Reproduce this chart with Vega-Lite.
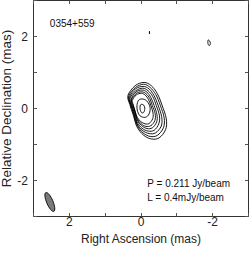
{
  "$schema": "https://vega.github.io/schema/vega-lite/v6.json",
  "width": 215,
  "height": 216,
  "autosize": {"type": "none"},
  "padding": {"left": 33, "top": 0, "right": 1, "bottom": 38},
  "background": "white",
  "config": {
    "font": "Liberation Sans",
    "view": {"stroke": "#333", "strokeWidth": 1},
    "axis": {
      "domain": false,
      "grid": false,
      "tickSize": -3.5,
      "tickColor": "#555",
      "labelFont": "Liberation Sans",
      "labelFontSize": 12,
      "labelColor": "#222",
      "labelOverlap": false,
      "labelFlush": false,
      "titleFont": "Liberation Sans",
      "titleFontSize": 12,
      "titleFontWeight": "normal",
      "titleColor": "#222"
    }
  },
  "datasets": {
    "contours": [
      {"c":1,"i":0,"x":-0.10,"y":0.71},{"c":1,"i":1,"x":-0.30,"y":0.62},{"c":1,"i":2,"x":-0.47,"y":0.40},{"c":1,"i":3,"x":-0.60,"y":0.08},{"c":1,"i":4,"x":-0.72,"y":-0.30},{"c":1,"i":5,"x":-0.70,"y":-0.60},{"c":1,"i":6,"x":-0.52,"y":-0.83},{"c":1,"i":7,"x":-0.30,"y":-0.86},{"c":1,"i":8,"x":-0.08,"y":-0.75},{"c":1,"i":9,"x":0.10,"y":-0.52},{"c":1,"i":10,"x":0.20,"y":-0.20},{"c":1,"i":11,"x":0.30,"y":0.10},{"c":1,"i":12,"x":0.35,"y":0.35},{"c":1,"i":13,"x":0.15,"y":0.62},
      {"c":2,"i":0,"x":-0.09,"y":0.66},{"c":2,"i":1,"x":-0.27,"y":0.57},{"c":2,"i":2,"x":-0.43,"y":0.37},{"c":2,"i":3,"x":-0.55,"y":0.08},{"c":2,"i":4,"x":-0.66,"y":-0.27},{"c":2,"i":5,"x":-0.64,"y":-0.55},{"c":2,"i":6,"x":-0.47,"y":-0.76},{"c":2,"i":7,"x":-0.27,"y":-0.79},{"c":2,"i":8,"x":-0.07,"y":-0.69},{"c":2,"i":9,"x":0.10,"y":-0.47},{"c":2,"i":10,"x":0.19,"y":-0.18},{"c":2,"i":11,"x":0.28,"y":0.10},{"c":2,"i":12,"x":0.33,"y":0.33},{"c":2,"i":13,"x":0.14,"y":0.57},
      {"c":3,"i":0,"x":-0.07,"y":0.60},{"c":3,"i":1,"x":-0.24,"y":0.53},{"c":3,"i":2,"x":-0.38,"y":0.34},{"c":3,"i":3,"x":-0.49,"y":0.08},{"c":3,"i":4,"x":-0.59,"y":-0.24},{"c":3,"i":5,"x":-0.58,"y":-0.50},{"c":3,"i":6,"x":-0.42,"y":-0.69},{"c":3,"i":7,"x":-0.24,"y":-0.71},{"c":3,"i":8,"x":-0.05,"y":-0.62},{"c":3,"i":9,"x":0.10,"y":-0.43},{"c":3,"i":10,"x":0.18,"y":-0.16},{"c":3,"i":11,"x":0.27,"y":0.09},{"c":3,"i":12,"x":0.31,"y":0.30},{"c":3,"i":13,"x":0.14,"y":0.53},
      {"c":4,"i":0,"x":-0.06,"y":0.55},{"c":4,"i":1,"x":-0.21,"y":0.48},{"c":4,"i":2,"x":-0.34,"y":0.32},{"c":4,"i":3,"x":-0.44,"y":0.07},{"c":4,"i":4,"x":-0.53,"y":-0.22},{"c":4,"i":5,"x":-0.51,"y":-0.44},{"c":4,"i":6,"x":-0.38,"y":-0.62},{"c":4,"i":7,"x":-0.21,"y":-0.64},{"c":4,"i":8,"x":-0.04,"y":-0.56},{"c":4,"i":9,"x":0.10,"y":-0.38},{"c":4,"i":10,"x":0.17,"y":-0.14},{"c":4,"i":11,"x":0.25,"y":0.09},{"c":4,"i":12,"x":0.29,"y":0.28},{"c":4,"i":13,"x":0.13,"y":0.48},
      {"c":5,"i":0,"x":-0.04,"y":0.50},{"c":5,"i":1,"x":-0.18,"y":0.44},{"c":5,"i":2,"x":-0.29,"y":0.29},{"c":5,"i":3,"x":-0.38,"y":0.07},{"c":5,"i":4,"x":-0.46,"y":-0.19},{"c":5,"i":5,"x":-0.45,"y":-0.39},{"c":5,"i":6,"x":-0.33,"y":-0.55},{"c":5,"i":7,"x":-0.18,"y":-0.57},{"c":5,"i":8,"x":-0.03,"y":-0.49},{"c":5,"i":9,"x":0.09,"y":-0.34},{"c":5,"i":10,"x":0.16,"y":-0.12},{"c":5,"i":11,"x":0.23,"y":0.08},{"c":5,"i":12,"x":0.26,"y":0.25},{"c":5,"i":13,"x":0.13,"y":0.44},
      {"c":6,"i":0,"x":-0.03,"y":0.45},{"c":6,"i":1,"x":-0.15,"y":0.40},{"c":6,"i":2,"x":-0.26,"y":0.26},{"c":6,"i":3,"x":-0.33,"y":0.07},{"c":6,"i":4,"x":-0.41,"y":-0.16},{"c":6,"i":5,"x":-0.40,"y":-0.35},{"c":6,"i":6,"x":-0.29,"y":-0.49},{"c":6,"i":7,"x":-0.15,"y":-0.51},{"c":6,"i":8,"x":-0.02,"y":-0.44},{"c":6,"i":9,"x":0.09,"y":-0.30},{"c":6,"i":10,"x":0.15,"y":-0.10},{"c":6,"i":11,"x":0.21,"y":0.08},{"c":6,"i":12,"x":0.25,"y":0.23},{"c":6,"i":13,"x":0.12,"y":0.40},
      {"c":7,"i":0,"x":-0.02,"y":0.41},{"c":7,"i":1,"x":-0.13,"y":0.36},{"c":7,"i":2,"x":-0.22,"y":0.24},{"c":7,"i":3,"x":-0.29,"y":0.07},{"c":7,"i":4,"x":-0.35,"y":-0.14},{"c":7,"i":5,"x":-0.34,"y":-0.30},{"c":7,"i":6,"x":-0.24,"y":-0.43},{"c":7,"i":7,"x":-0.13,"y":-0.44},{"c":7,"i":8,"x":-0.01,"y":-0.38},{"c":7,"i":9,"x":0.09,"y":-0.26},{"c":7,"i":10,"x":0.15,"y":-0.09},{"c":7,"i":11,"x":0.20,"y":0.08},{"c":7,"i":12,"x":0.23,"y":0.21},{"c":7,"i":13,"x":0.12,"y":0.36},
      {"c":8,"i":0,"x":0.05,"y":0.22},{"c":8,"i":1,"x":-0.07,"y":0.25},{"c":8,"i":2,"x":-0.17,"y":0.20},{"c":8,"i":3,"x":-0.25,"y":0.08},{"c":8,"i":4,"x":-0.27,"y":-0.06},{"c":8,"i":5,"x":-0.22,"y":-0.20},{"c":8,"i":6,"x":-0.12,"y":-0.26},{"c":8,"i":7,"x":0.01,"y":-0.22},{"c":8,"i":8,"x":0.08,"y":-0.10},{"c":8,"i":9,"x":0.10,"y":0.06},
      {"c":9,"i":0,"x":-0.02,"y":0.10},{"c":9,"i":1,"x":-0.09,"y":0.08},{"c":9,"i":2,"x":-0.12,"y":-0.02},{"c":9,"i":3,"x":-0.09,"y":-0.12},{"c":9,"i":4,"x":-0.03,"y":-0.13},{"c":9,"i":5,"x":0.01,"y":-0.04},{"c":9,"i":6,"x":0.01,"y":0.06},
      {"c":10,"i":0,"x":-0.25,"y":2.06},{"c":10,"i":1,"x":-0.25,"y":2.13},
      {"c":11,"i":0,"x":-1.89,"y":1.89},{"c":11,"i":1,"x":-1.93,"y":1.86},{"c":11,"i":2,"x":-1.95,"y":1.79},{"c":11,"i":3,"x":-1.93,"y":1.74},{"c":11,"i":4,"x":-1.89,"y":1.76},{"c":11,"i":5,"x":-1.88,"y":1.83}
    ],
    "beam": [{"x": 2.53, "y": -2.61}],
    "notes": [
      {"t": "0354+559", "x": 2.53, "y": 2.24},
      {"t": "P = 0.211 Jy/beam", "x": -0.19, "y": -2.19},
      {"t": "L = 0.4mJy/beam", "x": -0.19, "y": -2.59}
    ]
  },
  "layer": [
    {
      "data": {"name": "contours"},
      "mark": {"type": "line", "color": "black", "strokeWidth": 0.9, "interpolate": "cardinal-closed"},
      "encoding": {
        "x": {"field": "x", "type": "quantitative",
          "scale": {"domain": [3, -3], "nice": false, "zero": false},
          "axis": {"orient": "bottom", "values": [-3,-2,-1,0,1,2,3], "title": "Right Ascension (mas)",
            "labelExpr": "datum.value % 2 === 0 ? (datum.value < 0 ? '-' + abs(datum.value) : '' + datum.value) : ''",
            "labelPadding": 4, "titlePadding": 6}},
        "y": {"field": "y", "type": "quantitative",
          "scale": {"domain": [-3, 3], "nice": false, "zero": false},
          "axis": {"orient": "left", "values": [-3,-2,-1,0,1,2,3], "title": "Relative Declination (mas)",
            "labelExpr": "datum.value % 2 === 0 ? (datum.value < 0 ? '-' + abs(datum.value) : '' + datum.value) : ''",
            "labelPadding": 9, "titlePadding": 3, "titleFontSize": 13.5}},
        "detail": {"field": "c", "type": "nominal"},
        "order": {"field": "i", "type": "quantitative"}
      }
    },
    {
      "data": {"name": "beam"},
      "mark": {"type": "point", "shape": "M0,-1A0.31,1 0 1,1 0,1A0.31,1 0 1,1 0,-1Z", "size": 420, "angle": 337,
        "filled": true, "color": "#7a7a7a", "stroke": "black", "strokeWidth": 0.8, "opacity": 1},
      "encoding": {
        "x": {"field": "x", "type": "quantitative", "scale": {"domain": [3, -3], "nice": false, "zero": false},
          "axis": {"orient": "top", "values": [-3,-2,-1,0,1,2,3], "labels": false, "title": null}},
        "y": {"field": "y", "type": "quantitative", "scale": {"domain": [-3, 3], "nice": false, "zero": false},
          "axis": {"orient": "right", "values": [-3,-2,-1,0,1,2,3], "labels": false, "title": null}}
      }
    },
    {
      "data": {"name": "notes"},
      "mark": {"type": "text", "align": "left", "baseline": "alphabetic", "fontSize": 10, "font": "Liberation Sans", "color": "#111"},
      "encoding": {
        "x": {"field": "x", "type": "quantitative", "scale": {"domain": [3, -3], "nice": false, "zero": false}, "axis": null},
        "y": {"field": "y", "type": "quantitative", "scale": {"domain": [-3, 3], "nice": false, "zero": false}, "axis": null},
        "text": {"field": "t", "type": "nominal"}
      }
    }
  ],
  "resolve": {"axis": {"x": "independent", "y": "independent"}}
}
